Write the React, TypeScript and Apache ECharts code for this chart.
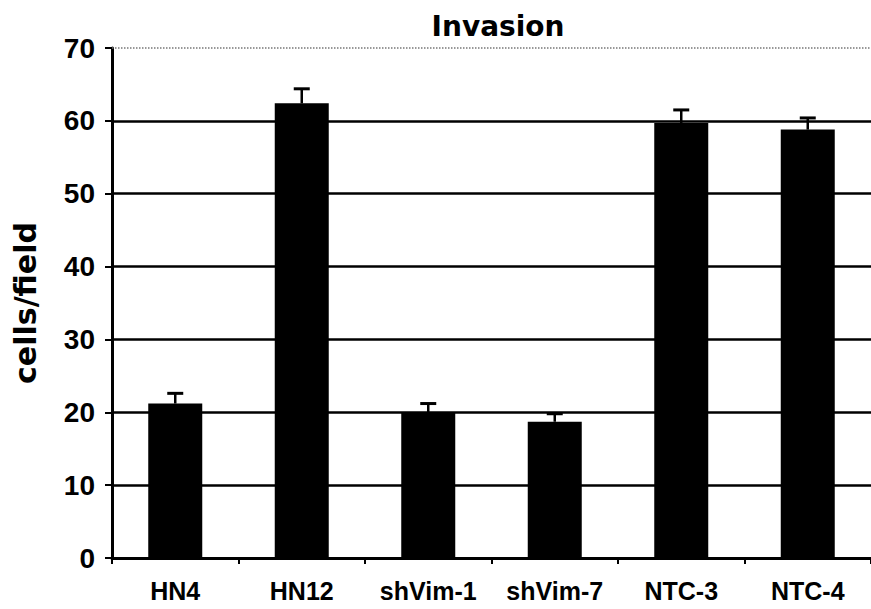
import React, { useEffect, useRef } from "react";
import * as echarts from "echarts";

const categories = ["HN4", "HN12", "shVim-1", "shVim-7", "NTC-3", "NTC-4"];
const means = [21.2, 62.4, 19.9, 18.7, 59.7, 58.8];
const errorTops = [22.6, 64.4, 21.2, 19.8, 61.5, 60.4];
const yTicks = { min: 0, max: 70, interval: 10 };
const titleText = "Invasion";
const yName = "cells/field";

export default function App() {
  const ref = useRef<HTMLDivElement>(null);
  useEffect(() => {
    if (!ref.current) return;
    const chart = echarts.init(ref.current, null, { renderer: "svg" });
    const errData = categories.map((_, i) => [i, means[i], errorTops[i]]);
    chart.setOption({
      animation: false,
      backgroundColor: "#ffffff",
      title: {
        text: titleText,
        left: 493,
        top: 7,
        textAlign: "center",
        textStyle: { fontFamily: "DejaVu Sans", fontWeight: "bold", fontSize: 28, color: "#000" },
      },
      grid: { left: 112, width: 768, top: 48, bottom: 51, containLabel: false },
      xAxis: {
        type: "category",
        data: categories,
        boundaryGap: true,
        axisLine: { show: true, lineStyle: { color: "#000", width: 3 } },
        axisTick: { show: true, interval: 0, alignWithLabel: false, length: 6, lineStyle: { color: "#000", width: 2 } },
        axisLabel: {
          interval: 0,
          margin: 20,
          fontFamily: "Liberation Sans",
          fontWeight: "bold",
          fontSize: 25,
          color: "#000",
        },
        splitLine: { show: false },
      },
      yAxis: {
        type: "value",
        min: yTicks.min,
        max: yTicks.max,
        interval: yTicks.interval,
        name: yName,
        nameLocation: "middle",
        nameGap: 72,
        nameTextStyle: { fontFamily: "DejaVu Sans", fontWeight: "bold", fontSize: 30, color: "#000" },
        axisLine: { show: true, lineStyle: { color: "#000", width: 3 } },
        axisTick: { show: true, length: 7, lineStyle: { color: "#000", width: 2 } },
        axisLabel: {
          margin: 17,
          fontFamily: "Liberation Sans",
          fontWeight: "bold",
          fontSize: 28,
          color: "#000",
        },
        splitLine: { show: true, showMaxLine: false, showMinLine: false, lineStyle: { color: "#000", width: 2.5 } },
      },
      series: [
        {
          type: "bar",
          data: means,
          barWidth: 54,
          itemStyle: { color: "#000" },
          markLine: {
            silent: true,
            symbol: ["none", "none"],
            label: { show: false },
            lineStyle: { color: "#777", type: "dotted", width: 1.5 },
            data: [{ yAxis: yTicks.max }],
          },
        },
        {
          type: "custom",
          data: errData,
          z: 5,
          renderItem: (params: any, api: any) => {
            const idx = api.value(0);
            const base = api.coord([idx, api.value(1)]);
            const top = api.coord([idx, api.value(2)]);
            const half = 8;
            return {
              type: "group",
              children: [
                {
                  type: "line",
                  shape: { x1: base[0], y1: base[1], x2: top[0], y2: top[1] },
                  style: { stroke: "#000", lineWidth: 2.5 },
                },
                {
                  type: "line",
                  shape: { x1: top[0] - half, y1: top[1], x2: top[0] + half, y2: top[1] },
                  style: { stroke: "#000", lineWidth: 3 },
                },
              ],
            };
          },
        },
      ],
    });
    return () => chart.dispose();
  }, []);
  return (
    <div
      ref={ref}
      style={{ position: "fixed", left: 0, top: 0, width: 871, height: 609, background: "#fff" }}
    />
  );
}
